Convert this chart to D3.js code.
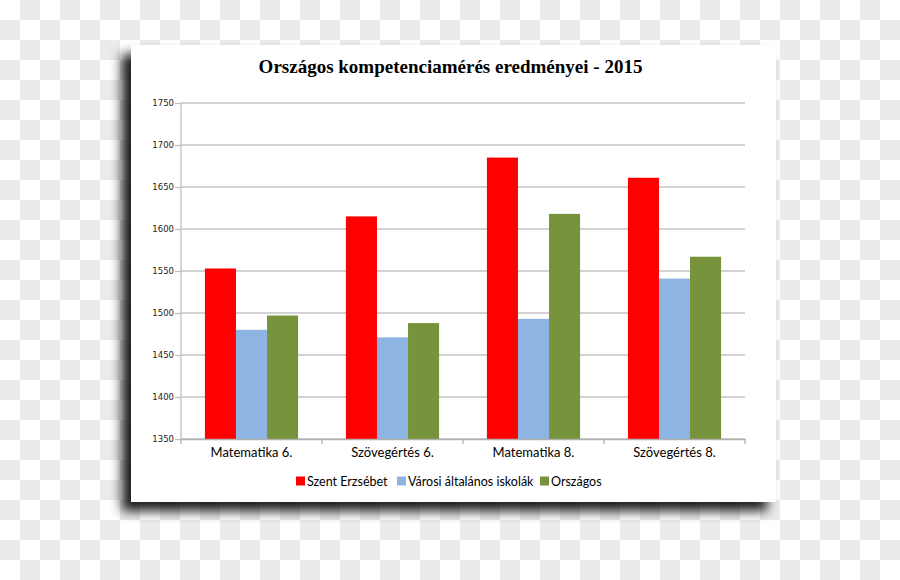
<!DOCTYPE html>
<html><head><meta charset="utf-8">
<script src="https://cdn.jsdelivr.net/npm/d3@7"></script>
<style>html,body{margin:0;padding:0;background:#fff;}svg{display:block;}</style>
</head><body>
<svg id="c" width="900" height="580"></svg>
<script>
const title = "Országos kompetenciamérés eredményei - 2015";
const categories = ["Matematika 6.", "Szövegértés 6.", "Matematika 8.", "Szövegértés 8."];
const seriesNames = ["Szent Erzsébet", "Városi általános iskolák", "Országos"];
const szentErzsebet = [1553, 1615, 1685, 1661];
const varosi = [1480, 1471, 1493, 1541];
const orszagos = [1497, 1488, 1618, 1567];
const yTicks = [1350, 1400, 1450, 1500, 1550, 1600, 1650, 1700, 1750];
const colors = ["#ff0000", "#8eb4e3", "#77933c"];
const seriesValues = [szentErzsebet, varosi, orszagos];

(function(){
const svg = d3.select("#c");
const defs = svg.append("defs");
// checkerboard
const pat = defs.append("pattern").attr("id","chk").attr("width",40).attr("height",40).attr("patternUnits","userSpaceOnUse");
pat.append("rect").attr("width",40).attr("height",40).attr("fill","#ffffff");
pat.append("rect").attr("x",20).attr("y",0).attr("width",20).attr("height",20).attr("fill","#ebebeb");
pat.append("rect").attr("x",0).attr("y",20).attr("width",20).attr("height",20).attr("fill","#ebebeb");
svg.append("rect").attr("width",900).attr("height",580).attr("fill","url(#chk)");

const f = defs.append("filter").attr("id","sh").attr("x","-20%").attr("y","-20%").attr("width","140%").attr("height","140%");
f.append("feDropShadow").attr("dx",-9).attr("dy",9).attr("stdDeviation",6).attr("flood-color","#000").attr("flood-opacity",0.9);

svg.append("rect").attr("x",131).attr("y",45).attr("width",645).attr("height",457)
  .attr("fill","#fff").attr("filter","url(#sh)");

svg.append("text").attr("x",450.5).attr("y",72.5).attr("text-anchor","middle")
  .attr("font-family","Liberation Serif").attr("font-weight","bold").attr("font-size",19)
  .attr("fill","#000").text(title);

const pL = 181, pR = 745, pT = 103, pB = 439;
const y = d3.scaleLinear().domain([1350,1750]).range([pB, pT]);
const x = d3.scaleBand().domain(categories).range([pL, pR]).paddingInner(0).paddingOuter(0);
const xs = d3.scaleBand().domain(d3.range(3)).range([0, x.bandwidth()]).paddingInner(0).paddingOuter(0.77);

// gridlines
const gy = svg.append("g").attr("transform",`translate(${pL},0)`)
  .call(d3.axisLeft(y).tickValues(yTicks).tickSize(6).tickFormat(d3.format("d")));
gy.select(".domain").remove();
gy.selectAll(".tick line").attr("stroke","#bfbfbf").attr("stroke-width",1.3);
gy.selectAll(".tick text").attr("font-family","DejaVu Sans").attr("font-size",8.5).attr("fill","#222").attr("x",-7);
svg.append("g").selectAll("line").data(yTicks).join("line")
  .attr("x1",pL).attr("x2",pR).attr("y1",d=>y(d)).attr("y2",d=>y(d))
  .attr("stroke","#c4c4c4").attr("stroke-width",1.5);

// bars
categories.forEach((c,i)=>{
  seriesValues.forEach((vals,s)=>{
    svg.append("rect").attr("x",x(c)+xs(s)).attr("width",xs.bandwidth())
      .attr("y",y(vals[i])).attr("height",y(1350)-y(vals[i])).attr("fill",colors[s]);
  });
});

// y axis line
svg.append("line").attr("x1",pL).attr("x2",pL).attr("y1",pT).attr("y2",pB).attr("stroke","#bfbfbf").attr("stroke-width",1.3);
// x axis
const gx = svg.append("g").attr("transform",`translate(0,${pB})`)
  .call(d3.axisBottom(x).tickSize(0).tickPadding(9));
gx.select(".domain").attr("stroke","#b0b0b0").attr("stroke-width",1.3);
gx.selectAll(".tick text").attr("font-family","Lato").attr("font-size",13).attr("fill","#000");
svg.append("g").selectAll("line").data(d3.range(5)).join("line")
  .attr("x1",d=>pL+d*x.step()).attr("x2",d=>pL+d*x.step()).attr("y1",pB).attr("y2",pB+5)
  .attr("stroke","#b0b0b0").attr("stroke-width",1.3);

// legend
const legX = [296, 397, 540];
const leg = svg.append("g");
seriesNames.forEach((n,i)=>{
  leg.append("rect").attr("x",legX[i]).attr("y",476.5).attr("width",9).attr("height",9).attr("fill",colors[i]);
  leg.append("text").attr("x",legX[i]+11).attr("y",485.5).attr("font-family","Lato").attr("font-size",12.5).attr("fill","#000").text(n);
});
})();
</script>
</body></html>
